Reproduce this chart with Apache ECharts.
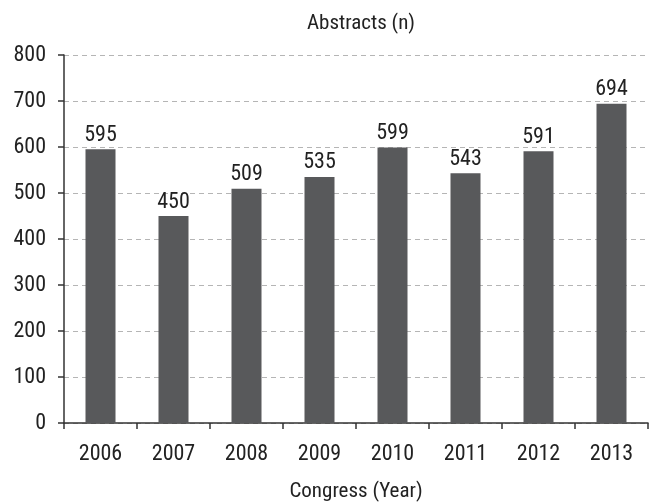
<!DOCTYPE html>
<html><head><meta charset="utf-8">
<script src="https://cdn.jsdelivr.net/npm/echarts@6/dist/echarts.min.js"></script>
<style>html,body{margin:0;padding:0;background:#fff}#c{width:654px;height:503px}</style>
</head><body><div id="c"></div>
<script>
const categories = ['2006','2007','2008','2009','2010','2011','2012','2013'];
const abstracts = [595, 450, 509, 535, 599, 543, 591, 694];
const FONT = '"Liberation Sans Narrow", "Roboto Condensed", "Liberation Sans", sans-serif';
const chart = echarts.init(document.getElementById('c'));
chart.setOption({
  backgroundColor: '#fff',
  animation: false,
  title: {
    text: 'Abstracts (n)', left: 356, top: 8, textAlign: 'center',
    textStyle: {fontFamily: FONT, fontSize: 21, fontWeight: 'normal', color: '#222'}
  },
  grid: {left: 64, right: 6, top: 55, bottom: 80, containLabel: false, outerBoundsMode: 'none'},
  xAxis: {
    type: 'category', data: categories,
    name: 'Congress (Year)', nameLocation: 'middle', nameGap: 58,
    nameTextStyle: {fontFamily: FONT, fontSize: 21, color: '#222'},
    axisLine: {lineStyle: {color: '#333', width: 1.5}},
    axisTick: {show: true, alignWithLabel: false, length: 6, lineStyle: {color: '#333', width: 1.5}},
    axisLabel: {fontFamily: FONT, fontSize: 22, color: '#222', margin: 20}
  },
  yAxis: {
    type: 'value', min: 0, max: 800, interval: 100,
    axisLine: {show: true, lineStyle: {color: '#333', width: 1.5}},
    axisTick: {show: true, length: 6, lineStyle: {color: '#333', width: 1.5}},
    axisLabel: {fontFamily: FONT, fontSize: 22, color: '#222', margin: 18},
    splitLine: {show: true, lineStyle: {color: '#b5b5b5', type: [5, 4], width: 1}}
  },
  series: [{
    type: 'bar', data: abstracts, barWidth: 30,
    itemStyle: {color: '#58595b'},
    label: {show: true, position: 'top', distance: 3, fontFamily: FONT, fontSize: 22, color: '#222'}
  }]
});
</script></body></html>
